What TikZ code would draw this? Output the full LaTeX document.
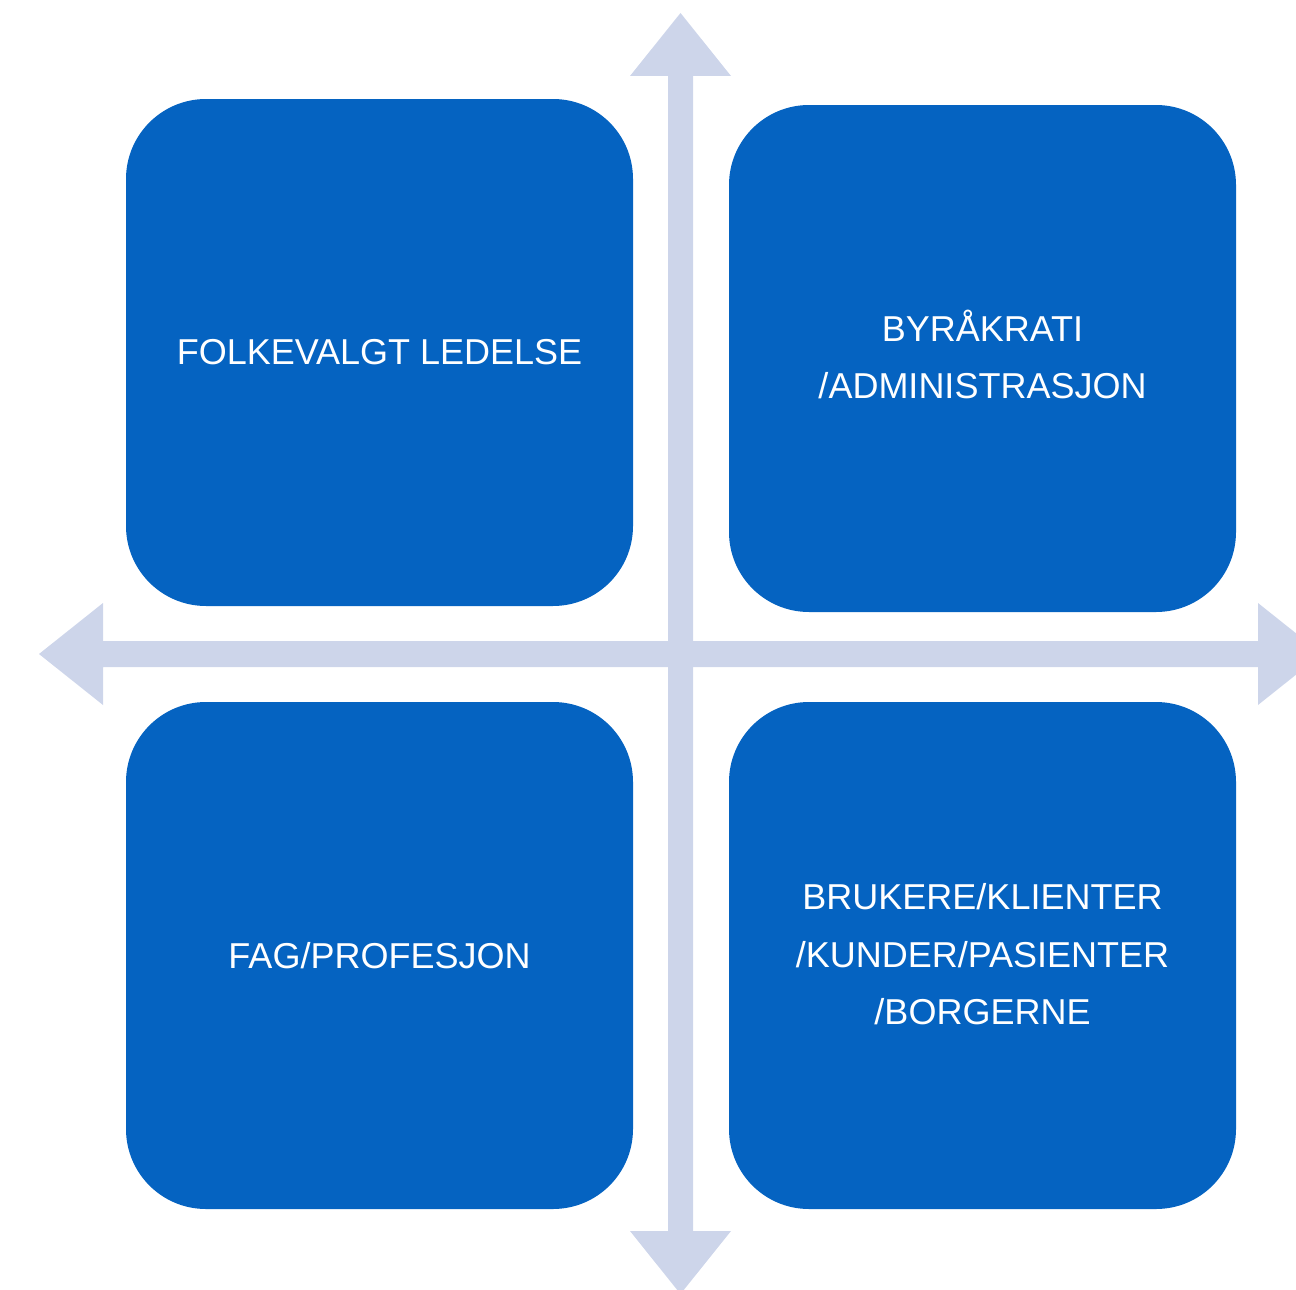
\documentclass[tikz,border=0pt]{standalone}
\usepackage{fontspec}
\setmainfont{Liberation Sans}
\definecolor{boxblue}{HTML}{0563C1}
\definecolor{axiscol}{HTML}{CDD5EA}
\tikzset{
  quad/.style={rectangle, rounded corners=80pt, fill=boxblue, draw=none,
    minimum width=507pt, minimum height=507pt, inner sep=0pt,
    text=white, align=center, font=\fontsize{36}{57.5}\selectfont},
  axis/.style={fill=axiscol, draw=none}
}
\begin{document}
\begin{tikzpicture}[x=1pt,y=-1pt]
\useasboundingbox (0,0) rectangle (1296,1290);
\clip (0,0) rectangle (1296,1290);
% vertical double arrow
\fill[axis] (668,76) -- (630,76) -- (680.5,13) -- (731,76) -- (693,76)
  -- (693,1231) -- (731,1231) -- (680.5,1294) -- (630,1231) -- (668,1231) -- cycle;
% horizontal double arrow
\fill[axis] (103,641) -- (103,603) -- (39,654) -- (103,705) -- (103,667)
  -- (1258,667) -- (1258,705) -- (1322,654) -- (1258,603) -- (1258,641) -- cycle;
% quadrants
\node[quad] (tl) at (379.5,352.5) {FOLKEVALGT LEDELSE};
\node[quad] (tr) at (982.5,358.5) {\raisebox{3.5pt}{\begin{tabular}{@{}c@{}}BYRÅKRATI\\/ADMINISTRASJON\end{tabular}}};
\node[quad] (bl) at (379.5,955.5) {FAG/PROFESJON};
\node[quad] (br) at (982.5,955.5) {\raisebox{2pt}{\begin{tabular}{@{}c@{}}BRUKERE/KLIENTER\\/KUNDER/PASIENTER\\/BORGERNE\end{tabular}}};
\end{tikzpicture}
\end{document}
